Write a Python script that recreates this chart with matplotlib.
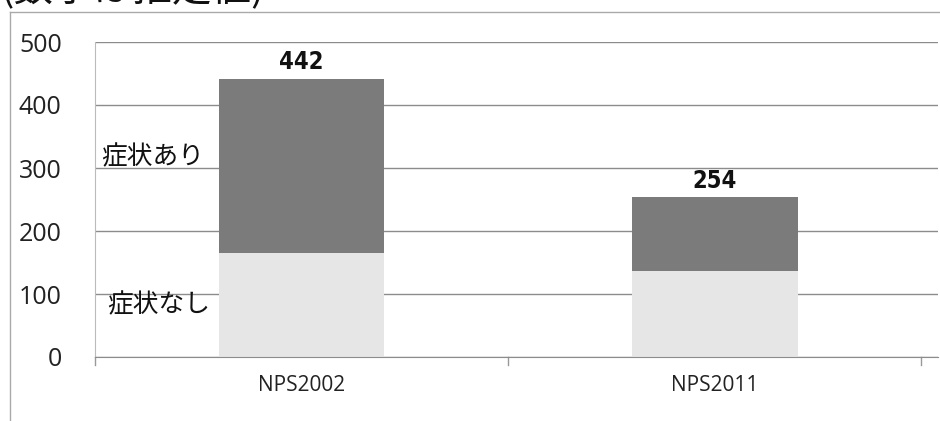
import matplotlib
matplotlib.use("Agg")
import matplotlib.pyplot as plt
from matplotlib.lines import Line2D
import numpy as np

categories = ["NPS2002", "NPS2011"]
no_symptoms = [165, 137]     # 症状なし
with_symptoms = [277, 117]   # 症状あり
totals = [442, 254]
y_ticks = [0, 100, 200, 300, 400, 500]

W, H = 940, 421
fig = plt.figure(figsize=(W / 100, H / 100), dpi=100)
fig.patch.set_facecolor("white")

jp = ["Noto Sans CJK JP", "DejaVu Sans"]

# title, cut by the top edge
fig.text(0.0, 1 - 10 / H, "(数字は推定値)", family=jp, fontsize=28.5,
         ha="left", va="bottom", color="#111111")

# outer chart frame
fig.add_artist(Line2D([10 / W, 10 / W], [0, 1 - 12 / H], transform=fig.transFigure,
                      color="#aaaaaa", lw=1.0))
fig.add_artist(Line2D([10 / W, 1], [1 - 12 / H, 1 - 12 / H], transform=fig.transFigure,
                      color="#aaaaaa", lw=1.0))

ax = fig.add_axes([95 / W, 1 - 357 / H, (938 - 95) / W, (357 - 42) / H])
x = np.arange(len(categories))
bw = 0.40
ax.bar(x, no_symptoms, width=bw, color="#e6e6e6", zorder=2)
ax.bar(x, with_symptoms, width=bw, bottom=no_symptoms, color="#7b7b7b", zorder=2)

for xi, t in zip(x, totals):
    ax.text(xi, t + 7, str(t), ha="center", va="bottom", fontsize=17,
            fontweight="bold", family="DejaVu Sans", fontstretch="condensed",
            color="#111111")

ax.set_xlim(-0.5, 1.54)
ax.set_ylim(0, 500)
ax.set_yticks(y_ticks)
ax.set_yticklabels([str(v) for v in y_ticks], family=["Open Sans", "DejaVu Sans"],
                   fontsize=18, color="#222222")
ax.yaxis.grid(True, color="#8c8c8c", lw=1.0, zorder=0)
ax.tick_params(axis="y", length=0, pad=24)

ax.set_xticks(x)
ax.set_xticklabels(categories, family=["Open Sans", "DejaVu Sans"], fontsize=15,
                   color="#222222")
ax.tick_params(axis="x", length=0, pad=13)
for bx in [-0.5, 0.5, 1.5]:
    ax.plot([bx, bx], [0, -12], color="#999999", lw=1.0, clip_on=False)

for s in ["top", "right"]:
    ax.spines[s].set_visible(False)
ax.spines["bottom"].set_color("#8c8c8c")
ax.spines["left"].set_color("#bbbbbb")

# series labels
ax.text(-0.485, 317, "症状あり", family=jp, fontsize=18.5, ha="left", va="center",
        color="#111111")
ax.text(-0.47, 82, "症状なし", family=jp, fontsize=18.5, ha="left", va="center",
        color="#111111")

fig.savefig("out.png", dpi=100)
